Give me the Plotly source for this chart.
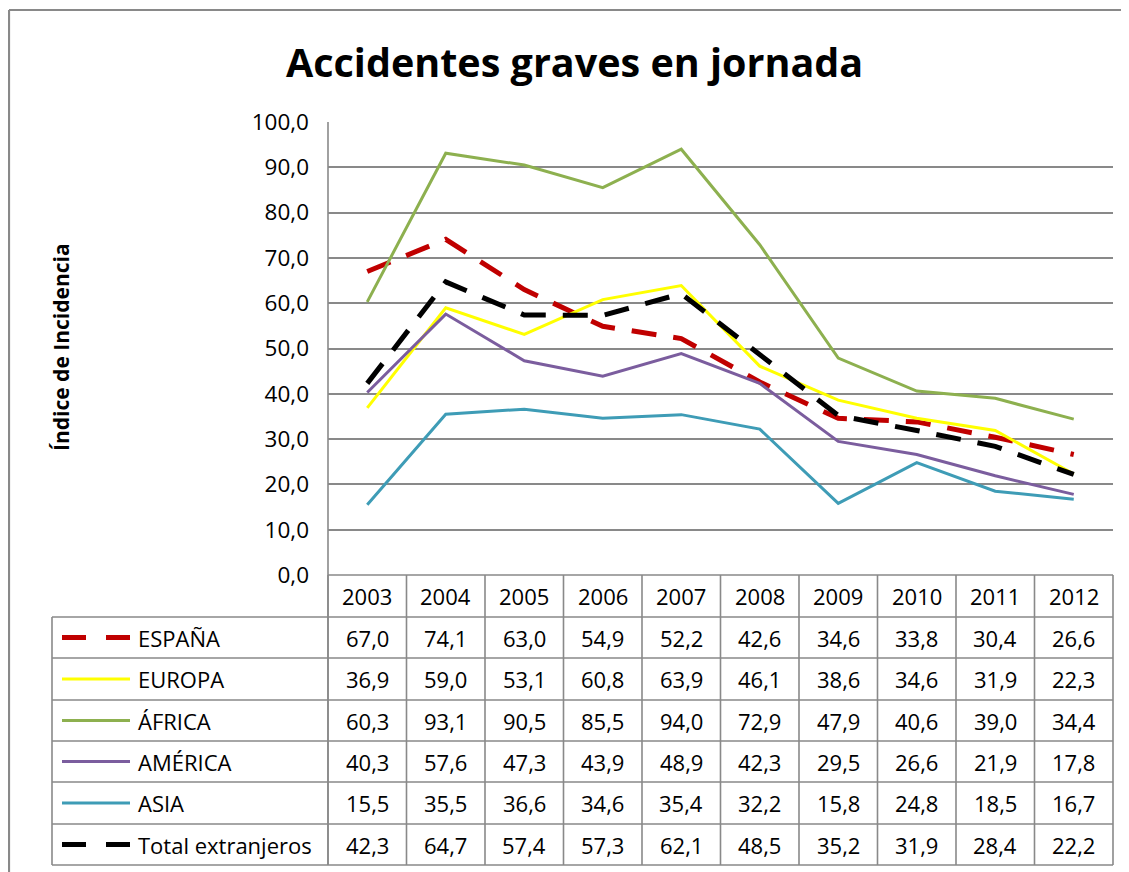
import plotly.graph_objects as go

# page body margin offset (browser default 8px)
OFF = 8
W, H = 1129 - OFF, 872 - OFF

years = ["2003", "2004", "2005", "2006", "2007", "2008", "2009", "2010", "2011", "2012"]
series_names = ["ESPAÑA", "EUROPA", "ÁFRICA", "AMÉRICA", "ASIA", "Total extranjeros"]
espana = [67.0, 74.1, 63.0, 54.9, 52.2, 42.6, 34.6, 33.8, 30.4, 26.6]
europa = [36.9, 59.0, 53.1, 60.8, 63.9, 46.1, 38.6, 34.6, 31.9, 22.3]
africa = [60.3, 93.1, 90.5, 85.5, 94.0, 72.9, 47.9, 40.6, 39.0, 34.4]
america = [40.3, 57.6, 47.3, 43.9, 48.9, 42.3, 29.5, 26.6, 21.9, 17.8]
asia = [15.5, 35.5, 36.6, 34.6, 35.4, 32.2, 15.8, 24.8, 18.5, 16.7]
total = [42.3, 64.7, 57.4, 57.3, 62.1, 48.5, 35.2, 31.9, 28.4, 22.2]
y_ticks = [0, 10, 20, 30, 40, 50, 60, 70, 80, 90, 100]
title = "Accidentes graves en jornada"
y_title = "Índice de Incidencia"

values = [espana, europa, africa, america, asia, total]
colors = ["#C00000", "#FFFF00", "#8DB04F", "#7B5D9E", "#3E9CB6", "#000000"]
widths = [5, 3, 3, 3, 3, 5]
dashes = ["25px,17px", "solid", "solid", "solid", "solid", "25px,17px"]
leg_dashes = ["24px,20px", "solid", "solid", "solid", "solid", "24px,20px"]

FONT = "'Open Sans', sans-serif"
GRID = "#898989"

def X(p):
    return (p - OFF) / W

def Y(p):
    return 1 - (p - OFF) / H

# layout in screen pixels
PL, PR, PT, PB = 328, 1113, 122, 575
LEG_L = 52
row_edges = [575, 617, 658, 700, 741, 782, 824, 865]
ncol = len(years)
colw = (PR - PL) / ncol

fig = go.Figure()
for name, v, c, w, d in zip(series_names, values, colors, widths, dashes):
    fig.add_trace(go.Scatter(
        x=list(range(ncol)), y=v, mode="lines", name=name,
        line=dict(color=c, width=w, dash=d), showlegend=False,
    ))

shapes = []
def line(x0, y0, x1, y1, color=GRID, width=1.6, dash="solid"):
    shapes.append(dict(type="line", xref="paper", yref="paper",
                       x0=X(x0), y0=Y(y0), x1=X(x1), y1=Y(y1),
                       line=dict(color=color, width=width, dash=dash), layer="below"))

# outer border (left and top visible)
line(9, 10, 1140, 10, width=2.2)
line(9, 10, 9, 900, width=2.2)
# y axis line
line(PL, PT, PL, row_edges[-1])
# header row lines
line(PL, row_edges[0], PR, row_edges[0])
for r in row_edges[1:]:
    line(LEG_L, r, PR, r)
# column lines
for i in range(ncol + 1):
    line(PL + i * colw, row_edges[0], PL + i * colw, row_edges[-1])
line(LEG_L, row_edges[1], LEG_L, row_edges[-1])

annotations = []
TS = 22
# header years
for i, yr in enumerate(years):
    annotations.append(dict(xref="paper", yref="paper", x=X(PL + (i + 0.5) * colw),
                            y=Y((row_edges[0] + row_edges[1]) / 2), text=yr, showarrow=False,
                            font=dict(family=FONT, size=TS, color="#000"), xanchor="center", yanchor="middle"))
# rows
for r, (name, v, c, w, d) in enumerate(zip(series_names, values, colors, widths, leg_dashes)):
    yc = (row_edges[r + 1] + row_edges[r + 2]) / 2
    shapes.append(dict(type="line", xref="paper", yref="paper", x0=X(62), y0=Y(yc), x1=X(130), y1=Y(yc),
                       line=dict(color=c, width=w, dash=d)))
    annotations.append(dict(xref="paper", yref="paper", x=X(136), y=Y(yc), text=name, showarrow=False,
                            font=dict(family=FONT, size=TS, color="#000"), xanchor="left", yanchor="middle"))
    for i, val in enumerate(v):
        annotations.append(dict(xref="paper", yref="paper", x=X(PL + (i + 0.5) * colw), y=Y(yc),
                                text=f"{val:.1f}".replace(".", ","), showarrow=False,
                                font=dict(family=FONT, size=TS, color="#000"), xanchor="center", yanchor="middle"))

# title
annotations.append(dict(xref="paper", yref="paper", x=X(574), y=Y(62), text=f"<b>{title}</b>", showarrow=False,
                        font=dict(family=FONT, size=39.5, color="#000"), xanchor="center", yanchor="middle"))
annotations.append(dict(xref="paper", yref="paper", x=X(61), y=Y(347), text=f"<b>{y_title}</b>", showarrow=False,
                        textangle=-90, font=dict(family=FONT, size=21, color="#000"), xanchor="center", yanchor="middle"))

fig.update_layout(
    width=W, height=H, margin=dict(l=0, r=0, t=0, b=0, autoexpand=False),
    paper_bgcolor="white", plot_bgcolor="white",
    shapes=shapes, annotations=annotations,
    xaxis=dict(domain=[X(PL), X(PR)], range=[-0.5, ncol - 0.5], showgrid=False, showticklabels=False,
               zeroline=False, showline=False, fixedrange=True, automargin=False),
    yaxis=dict(domain=[Y(PB), Y(PT)], range=[0, 100], tickvals=y_ticks,
               ticktext=[f"{t:.1f}".replace(".", ",") for t in y_ticks],
               showgrid=True, gridcolor=GRID, gridwidth=1.6, zeroline=False, showline=False,
               ticks="", ticklabelstandoff=18, automargin=False,
               tickfont=dict(family=FONT, size=22.5, color="#000")),
)

fig.write_html("out.html")
